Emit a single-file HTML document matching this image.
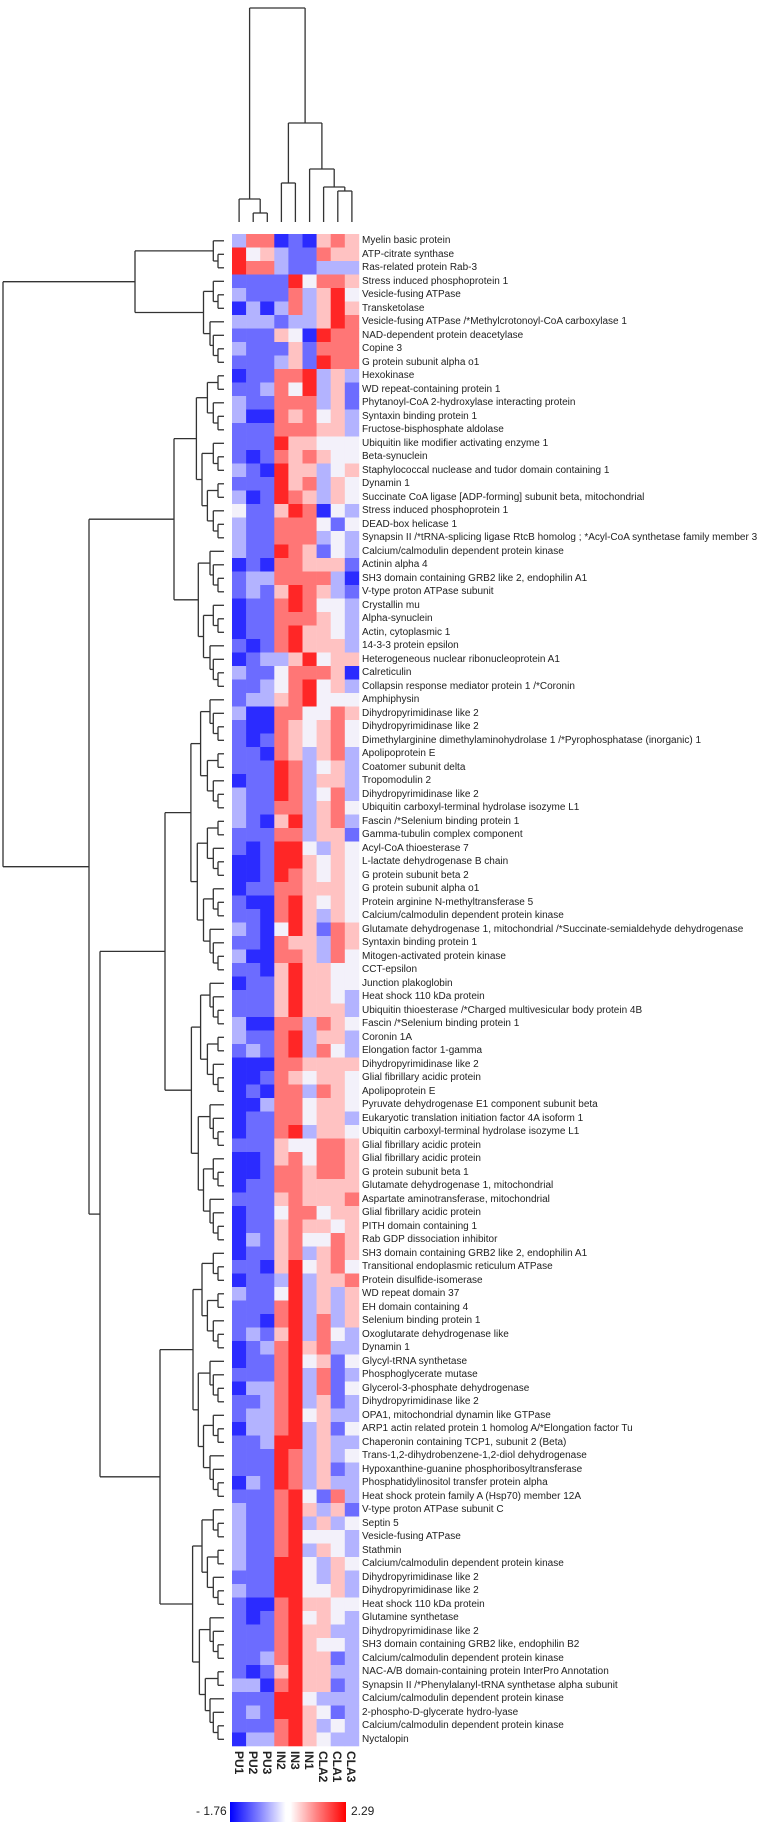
<!DOCTYPE html>
<html><head><meta charset="utf-8">
<style>
html,body{margin:0;padding:0;background:#fff;}
body{width:774px;height:1825px;position:relative;overflow:hidden;font-family:"Liberation Sans",sans-serif;}
#labels{position:absolute;left:362px;top:234px;font-size:10px;color:#222;}
#labels div{height:13.5px;line-height:13.5px;white-space:nowrap;}
.cl{position:absolute;top:1751px;writing-mode:vertical-rl;font-size:12px;font-weight:bold;color:#222;line-height:14px;}
svg{position:absolute;left:0;top:0;}
</style></head><body>
<svg id="sv" width="774" height="1825"></svg>
<div id="labels">
<div>Myelin basic protein</div>
<div>ATP-citrate synthase</div>
<div>Ras-related protein Rab-3</div>
<div>Stress induced phosphoprotein 1</div>
<div>Vesicle-fusing ATPase</div>
<div>Transketolase</div>
<div>Vesicle-fusing ATPase /*Methylcrotonoyl-CoA carboxylase 1</div>
<div>NAD-dependent protein deacetylase</div>
<div>Copine 3</div>
<div>G protein subunit alpha o1</div>
<div>Hexokinase</div>
<div>WD repeat-containing protein 1</div>
<div>Phytanoyl-CoA 2-hydroxylase interacting protein</div>
<div>Syntaxin binding protein 1</div>
<div>Fructose-bisphosphate aldolase</div>
<div>Ubiquitin like modifier activating enzyme 1</div>
<div>Beta-synuclein</div>
<div>Staphylococcal nuclease and tudor domain containing 1</div>
<div>Dynamin 1</div>
<div>Succinate CoA ligase [ADP-forming] subunit beta, mitochondrial</div>
<div>Stress induced phosphoprotein 1</div>
<div>DEAD-box helicase 1</div>
<div>Synapsin II /*tRNA-splicing ligase RtcB homolog ; *Acyl-CoA synthetase family member 3</div>
<div>Calcium/calmodulin dependent protein kinase</div>
<div>Actinin alpha 4</div>
<div>SH3 domain containing GRB2 like 2, endophilin A1</div>
<div>V-type proton ATPase subunit</div>
<div>Crystallin mu</div>
<div>Alpha-synuclein</div>
<div>Actin, cytoplasmic 1</div>
<div>14-3-3 protein epsilon</div>
<div>Heterogeneous nuclear ribonucleoprotein A1</div>
<div>Calreticulin</div>
<div>Collapsin response mediator protein 1 /*Coronin</div>
<div>Amphiphysin</div>
<div>Dihydropyrimidinase like 2</div>
<div>Dihydropyrimidinase like 2</div>
<div>Dimethylarginine dimethylaminohydrolase 1 /*Pyrophosphatase (inorganic) 1</div>
<div>Apolipoprotein E</div>
<div>Coatomer subunit delta</div>
<div>Tropomodulin 2</div>
<div>Dihydropyrimidinase like 2</div>
<div>Ubiquitin carboxyl-terminal hydrolase isozyme L1</div>
<div>Fascin /*Selenium binding protein 1</div>
<div>Gamma-tubulin complex component</div>
<div>Acyl-CoA thioesterase 7</div>
<div>L-lactate dehydrogenase B chain</div>
<div>G protein subunit beta 2</div>
<div>G protein subunit alpha o1</div>
<div>Protein arginine N-methyltransferase 5</div>
<div>Calcium/calmodulin dependent protein kinase</div>
<div>Glutamate dehydrogenase 1, mitochondrial /*Succinate-semialdehyde dehydrogenase</div>
<div>Syntaxin binding protein 1</div>
<div>Mitogen-activated protein kinase</div>
<div>CCT-epsilon</div>
<div>Junction plakoglobin</div>
<div>Heat shock 110 kDa protein</div>
<div>Ubiquitin thioesterase /*Charged multivesicular body protein 4B</div>
<div>Fascin /*Selenium binding protein 1</div>
<div>Coronin 1A</div>
<div>Elongation factor 1-gamma</div>
<div>Dihydropyrimidinase like 2</div>
<div>Glial fibrillary acidic protein</div>
<div>Apolipoprotein E</div>
<div>Pyruvate dehydrogenase E1 component subunit beta</div>
<div>Eukaryotic translation initiation factor 4A isoform 1</div>
<div>Ubiquitin carboxyl-terminal hydrolase isozyme L1</div>
<div>Glial fibrillary acidic protein</div>
<div>Glial fibrillary acidic protein</div>
<div>G protein subunit beta 1</div>
<div>Glutamate dehydrogenase 1, mitochondrial</div>
<div>Aspartate aminotransferase, mitochondrial</div>
<div>Glial fibrillary acidic protein</div>
<div>PITH domain containing 1</div>
<div>Rab GDP dissociation inhibitor</div>
<div>SH3 domain containing GRB2 like 2, endophilin A1</div>
<div>Transitional endoplasmic reticulum ATPase</div>
<div>Protein disulfide-isomerase</div>
<div>WD repeat domain 37</div>
<div>EH domain containing 4</div>
<div>Selenium binding protein 1</div>
<div>Oxoglutarate dehydrogenase like</div>
<div>Dynamin 1</div>
<div>Glycyl-tRNA synthetase</div>
<div>Phosphoglycerate mutase</div>
<div>Glycerol-3-phosphate dehydrogenase</div>
<div>Dihydropyrimidinase like 2</div>
<div>OPA1, mitochondrial dynamin like GTPase</div>
<div>ARP1 actin related protein 1 homolog A/*Elongation factor Tu</div>
<div>Chaperonin containing TCP1, subunit 2 (Beta)</div>
<div>Trans-1,2-dihydrobenzene-1,2-diol dehydrogenase</div>
<div>Hypoxanthine-guanine phosphoribosyltransferase</div>
<div>Phosphatidylinositol transfer protein alpha</div>
<div>Heat shock protein family A (Hsp70) member 12A</div>
<div>V-type proton ATPase subunit C</div>
<div>Septin 5</div>
<div>Vesicle-fusing ATPase</div>
<div>Stathmin</div>
<div>Calcium/calmodulin dependent protein kinase</div>
<div>Dihydropyrimidinase like 2</div>
<div>Dihydropyrimidinase like 2</div>
<div>Heat shock 110 kDa protein</div>
<div>Glutamine synthetase</div>
<div>Dihydropyrimidinase like 2</div>
<div>SH3 domain containing GRB2 like, endophilin B2</div>
<div>Calcium/calmodulin dependent protein kinase</div>
<div>NAC-A/B domain-containing protein InterPro Annotation</div>
<div>Synapsin II /*Phenylalanyl-tRNA synthetase alpha subunit</div>
<div>Calcium/calmodulin dependent protein kinase</div>
<div>2-phospho-D-glycerate hydro-lyase</div>
<div>Calcium/calmodulin dependent protein kinase</div>
<div>Nyctalopin</div>
</div>
<div class="cl" style="left:232px">PU1</div>
<div class="cl" style="left:246px">PU2</div>
<div class="cl" style="left:260px">PU3</div>
<div class="cl" style="left:274px">IN2</div>
<div class="cl" style="left:288px">IN3</div>
<div class="cl" style="left:302px">IN1</div>
<div class="cl" style="left:316px">CLA2</div>
<div class="cl" style="left:330px">CLA1</div>
<div class="cl" style="left:344px">CLA3</div>
<div style="position:absolute;left:196px;top:1804px;font-size:12px;color:#222;">- 1.76</div>
<div style="position:absolute;left:351px;top:1804px;font-size:12px;color:#222;">2.29</div>
<div style="position:absolute;left:230px;top:1802px;width:116px;height:20px;background:linear-gradient(to right,#0000ff 0%,#8080ff 25%,#ffffff 48%,#ffffff 52%,#ff8080 75%,#ff0000 100%);"></div>
<script>
var D=[
"lrrBbBprp","Rwplbbrpp","Rrrlbblll","bbbbRwrrp","lbbbrlpRw","BlBlrlpRp","lllbllpRr","bbbpwBRrr","lbbbpbrrr","bbblpbRrr",
"BbbrrRlpl","bblrwRlpb","lbbrrrlpb","lBBrprwpl","bbbrrrppl","bbbRppwww","bBbrprpww","lbBRpplwp","bbbRprlpw","lBbRrplpw",
"wbbpRrBwl","lbbrrrwbw","lbbrrrlwl","lbbRrpbwl","BbBrrpppb","bllrrrrlB","blbpRrplb","BbbrRrwwl","Bbbrrrpwl","BbbrRppwl",
"bBbrRpppl","BbllpRwpp","lbbwrrrpB","bblwrRwpl","bllprRwww","lBBrrwwrp","bBBrpwprw","bBbrpwprw","bbBrplprl","bbbRrlwpl",
"BbbRrlppl","lbbRrlwrl","lbbrrlprw","lbBpRlprl","bbbrrlppb","bBbRRwlpw","BBbRRpwpw","BBbRrpwpw","Bbbrrpppw","bBBrRpwpw",
"bbBrRplpw","lbBwRpbrp","bbBrpplrp","lBBrrplrw","bbBpRppww","BbbpRppww","bbbpRppwl","bbbpRpppl","lBBrrlrpw","lbbrRlppl",
"blbrRlrwl","BBBrrpppp","BBbrpwppw","BbBrrlrpw","BBlrrwppw","Bbbrrwppl","BbbrRlppw","bbbpwwrrp","BBbprwrrp","BBbrrprrp",
"Bbbrrpppp","bbbprpppr","Bbbwrrwpp","Bbbprppwp","Blbprwwrp","Bbbprlprp","bbBpRwprw","BbblRlppr","lbbwRlplp","bbbrRlplp",
"bbBrRlrlp","blbpRlrwl","BblrRprll","BbbrRwpbw","bbbrRlrbl","BllrRlrbw","bblrRlpbl","bllrRwpll","BllrRlpbw","bblRRlpll",
"bbbRrlplw","bbbRrlpbl","BlbRrlpll","bbbrRwbrl","lbbrRplpb","lbbrRlplw","lbbrRwwwl","lbbrRlpwl","lbbRRwlpw","bbbRRwlpl",
"lbbRRwwpl","bBBrRppww","bBbrRwpwl","bbbrRppll","bbbrRpwwl","bblrRppbl","bBbpRppll","llBrRppbl","bbbRRwlll","blbRRpwbl",
"bbbrRplwl","BllrRpwll"];
var C={B:"#2b2bff",b:"#6c6cff",l:"#b3b3ff",w:"#f3f1fa",p:"#ffc2c2",r:"#ff7676",R:"#ff2626"};
var X0=232,CW=14.1,Y0=234,RH=13.5;
var s='';
for(var i=0;i<D.length;i++)for(var j=0;j<9;j++){
 s+='<rect x="'+(X0+j*CW).toFixed(2)+'" y="'+(Y0+i*RH).toFixed(2)+'" width="'+(CW+0.3).toFixed(2)+'" height="'+(RH+0.3).toFixed(2)+'" fill="'+C[D[i][j]]+'"/>';}
var L='';
function ln(x1,y1,x2,y2){L+='<line x1="'+x1.toFixed(1)+'" y1="'+y1.toFixed(1)+'" x2="'+x2.toFixed(1)+'" y2="'+y2.toFixed(1)+'"/>';}
function yc(i){return Y0+(i-0.5)*RH;}
function auto(lo,hi,px){
 if(lo==hi)return {x:224,y:yc(lo)};
 var n=hi-lo+1;
 var x=Math.max(px+3,Math.min(219,226-8*Math.log2(n)));
 var m=lo+Math.max(0,Math.floor(n*0.45)-1);
 if(m>=hi)m=hi-1;
 var a=auto(lo,m,x),b=auto(m+1,hi,x);
 return join(x,a,b);
}
function join(x,a,b){ln(x,a.y,a.x,a.y);ln(x,b.y,b.x,b.y);ln(x,a.y,x,b.y);return {x:x,y:(a.y+b.y)/2};}
var A=join(135,auto(1,3,201),auto(4,10,195));
var B1=join(174,auto(11,23,174),auto(24,34,174));
var C1=join(165,auto(35,55,172),auto(56,75,175));
var E1=join(160,auto(76,94,190),auto(95,112,188));
var Dn=join(100,C1,E1);
var Bn=join(89,B1,Dn);
join(3,A,Bn);
// column dendrogram
var cx=function(j){return X0+(j+0.5)*CW;};
var ctop=222;
function cj(y,a,b){ln(a.x,y,a.x,a.y);ln(b.x,y,b.x,b.y);ln(a.x,y,b.x,y);return {x:(a.x+b.x)/2,y:y};}
function lf(j){return {x:cx(j),y:ctop};}
var pu23=cj(213,lf(1),lf(2));
var pu=cj(199,lf(0),pu23);
var inn=cj(183,lf(3),lf(4));
var c13=cj(191,lf(7),lf(8));
var cla=cj(187,lf(6),c13);
var in1c=cj(169,lf(5),cla);
var rest=cj(123,inn,in1c);
cj(8,pu,rest);
document.getElementById('sv').innerHTML=s+'<g stroke="#333" stroke-width="1.3" fill="none">'+L+'</g>';
</script>
</body></html>
